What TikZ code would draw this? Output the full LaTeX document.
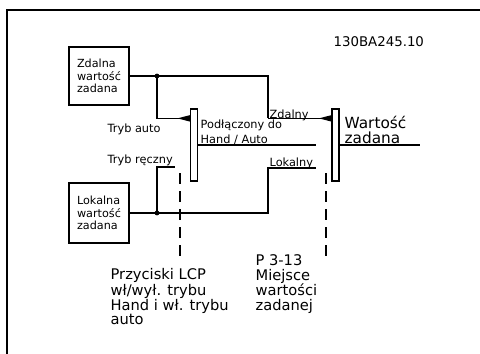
\documentclass[tikz,border=0pt]{standalone}
\usepackage{fontspec}
\setmainfont{DejaVu Sans}
\usetikzlibrary{arrows.meta,calc}

\tikzset{
  blok/.style={draw, minimum width=45pt, minimum height=43.5pt, align=left, inner sep=0pt,
    font=\fontsize{8.4}{9.4}\selectfont},
  szyna/.style={draw, minimum width=5.25pt, minimum height=54pt, inner sep=0pt},
  kropka/.style={circle, fill, inner sep=0pt, minimum size=3.6pt},
  cad/.style={inner sep=0pt, anchor=west, font=\fontsize{8.5}{11.25}\selectfont},
  opis/.style={inner sep=0pt, align=left, anchor=north west, font=\fontsize{11}{10.5}\selectfont},
  styk/.style={-{Triangle[reversed,length=9.5pt,width=4.5pt]}},
}

\begin{document}
\begin{tikzpicture}[x=0.75pt, y=-0.75pt, line width=0.95pt]
  \useasboundingbox (0,0) rectangle (480,354);
  % ramka
  \draw (7,354) -- (7,10) -- (480,10);
  \node[inner sep=0pt, anchor=west, font=\fontsize{10}{12}\selectfont] (numer) at (333,42) {130BA245.10};
  % zrodla wartosci zadanej
  \node[blok] (zdalna) at (99,76) {Zdalna\\wartość\\zadana};
  \node[blok, minimum height=45pt] (lokalna) at (99,213) {Lokalna\\wartość\\zadana};
  % przelaczniki
  \node[szyna] (hand) at (194,145) {};
  \node[szyna] (miejsce) at (335.5,145) {};
  \coordinate (k2) at (268,0);
  \coordinate (autoWe) at ($(hand.north west)+(0,10)$);
  \coordinate (zdWe) at ($(miejsce.north west)+(0,10)$);
  \coordinate (recKon) at (175,167);
  \coordinate (lokKon) at (316,168);
  \coordinate (wyjscie) at (420,145);
  % wezly
  \node[kropka] (w1) at (157,76) {};
  \node[kropka] (w2) at (157,213) {};
  % polaczenia
  \draw (zdalna.east) -- (zdalna.east -| k2) -- (zdWe -| k2);
  \draw[styk] (zdWe -| k2) -- (zdWe);
  \draw[styk] (w1.center) |- (autoWe);
  \draw (lokalna.east) -| (lokKon -| k2) -- (lokKon);
  \draw (w2.center) |- (recKon);
  \draw (hand.east) -- (hand.east -| lokKon);
  \draw (miejsce.east) -- (wyjscie);
  % linie przerywane
  \foreach \x in {180,326} \draw[dash pattern=on 8pt off 5.5pt] (\x,173) -- (\x,262);
  % opisy
  \node[cad] (tauto) at (107,129) {Tryb auto};
  \node[cad] (trecz) at (107,160) {Tryb ręczny};
  \node[cad, align=left] (podl) at (200,132.5) {Podłączony do\\Hand / Auto};
  \node[cad] (zdalny) at (269,115) {Zdalny};
  \node[cad] (lokalny) at (269,163) {Lokalny};
  \node[opis, anchor=west, font=\fontsize{11.5}{11.25}\selectfont] (wartosc) at (344,129.5) {Wartość\\zadana};
  \node[opis] (lcp) at (110,268) {Przyciski LCP\\wł/wył. trybu\\Hand i wł. trybu\\auto};
  \node[opis, font=\fontsize{11}{11.25}\selectfont] (par) at (255,254) {P 3-13\\Miejsce\\wartości\\zadanej};
\end{tikzpicture}
\end{document}
